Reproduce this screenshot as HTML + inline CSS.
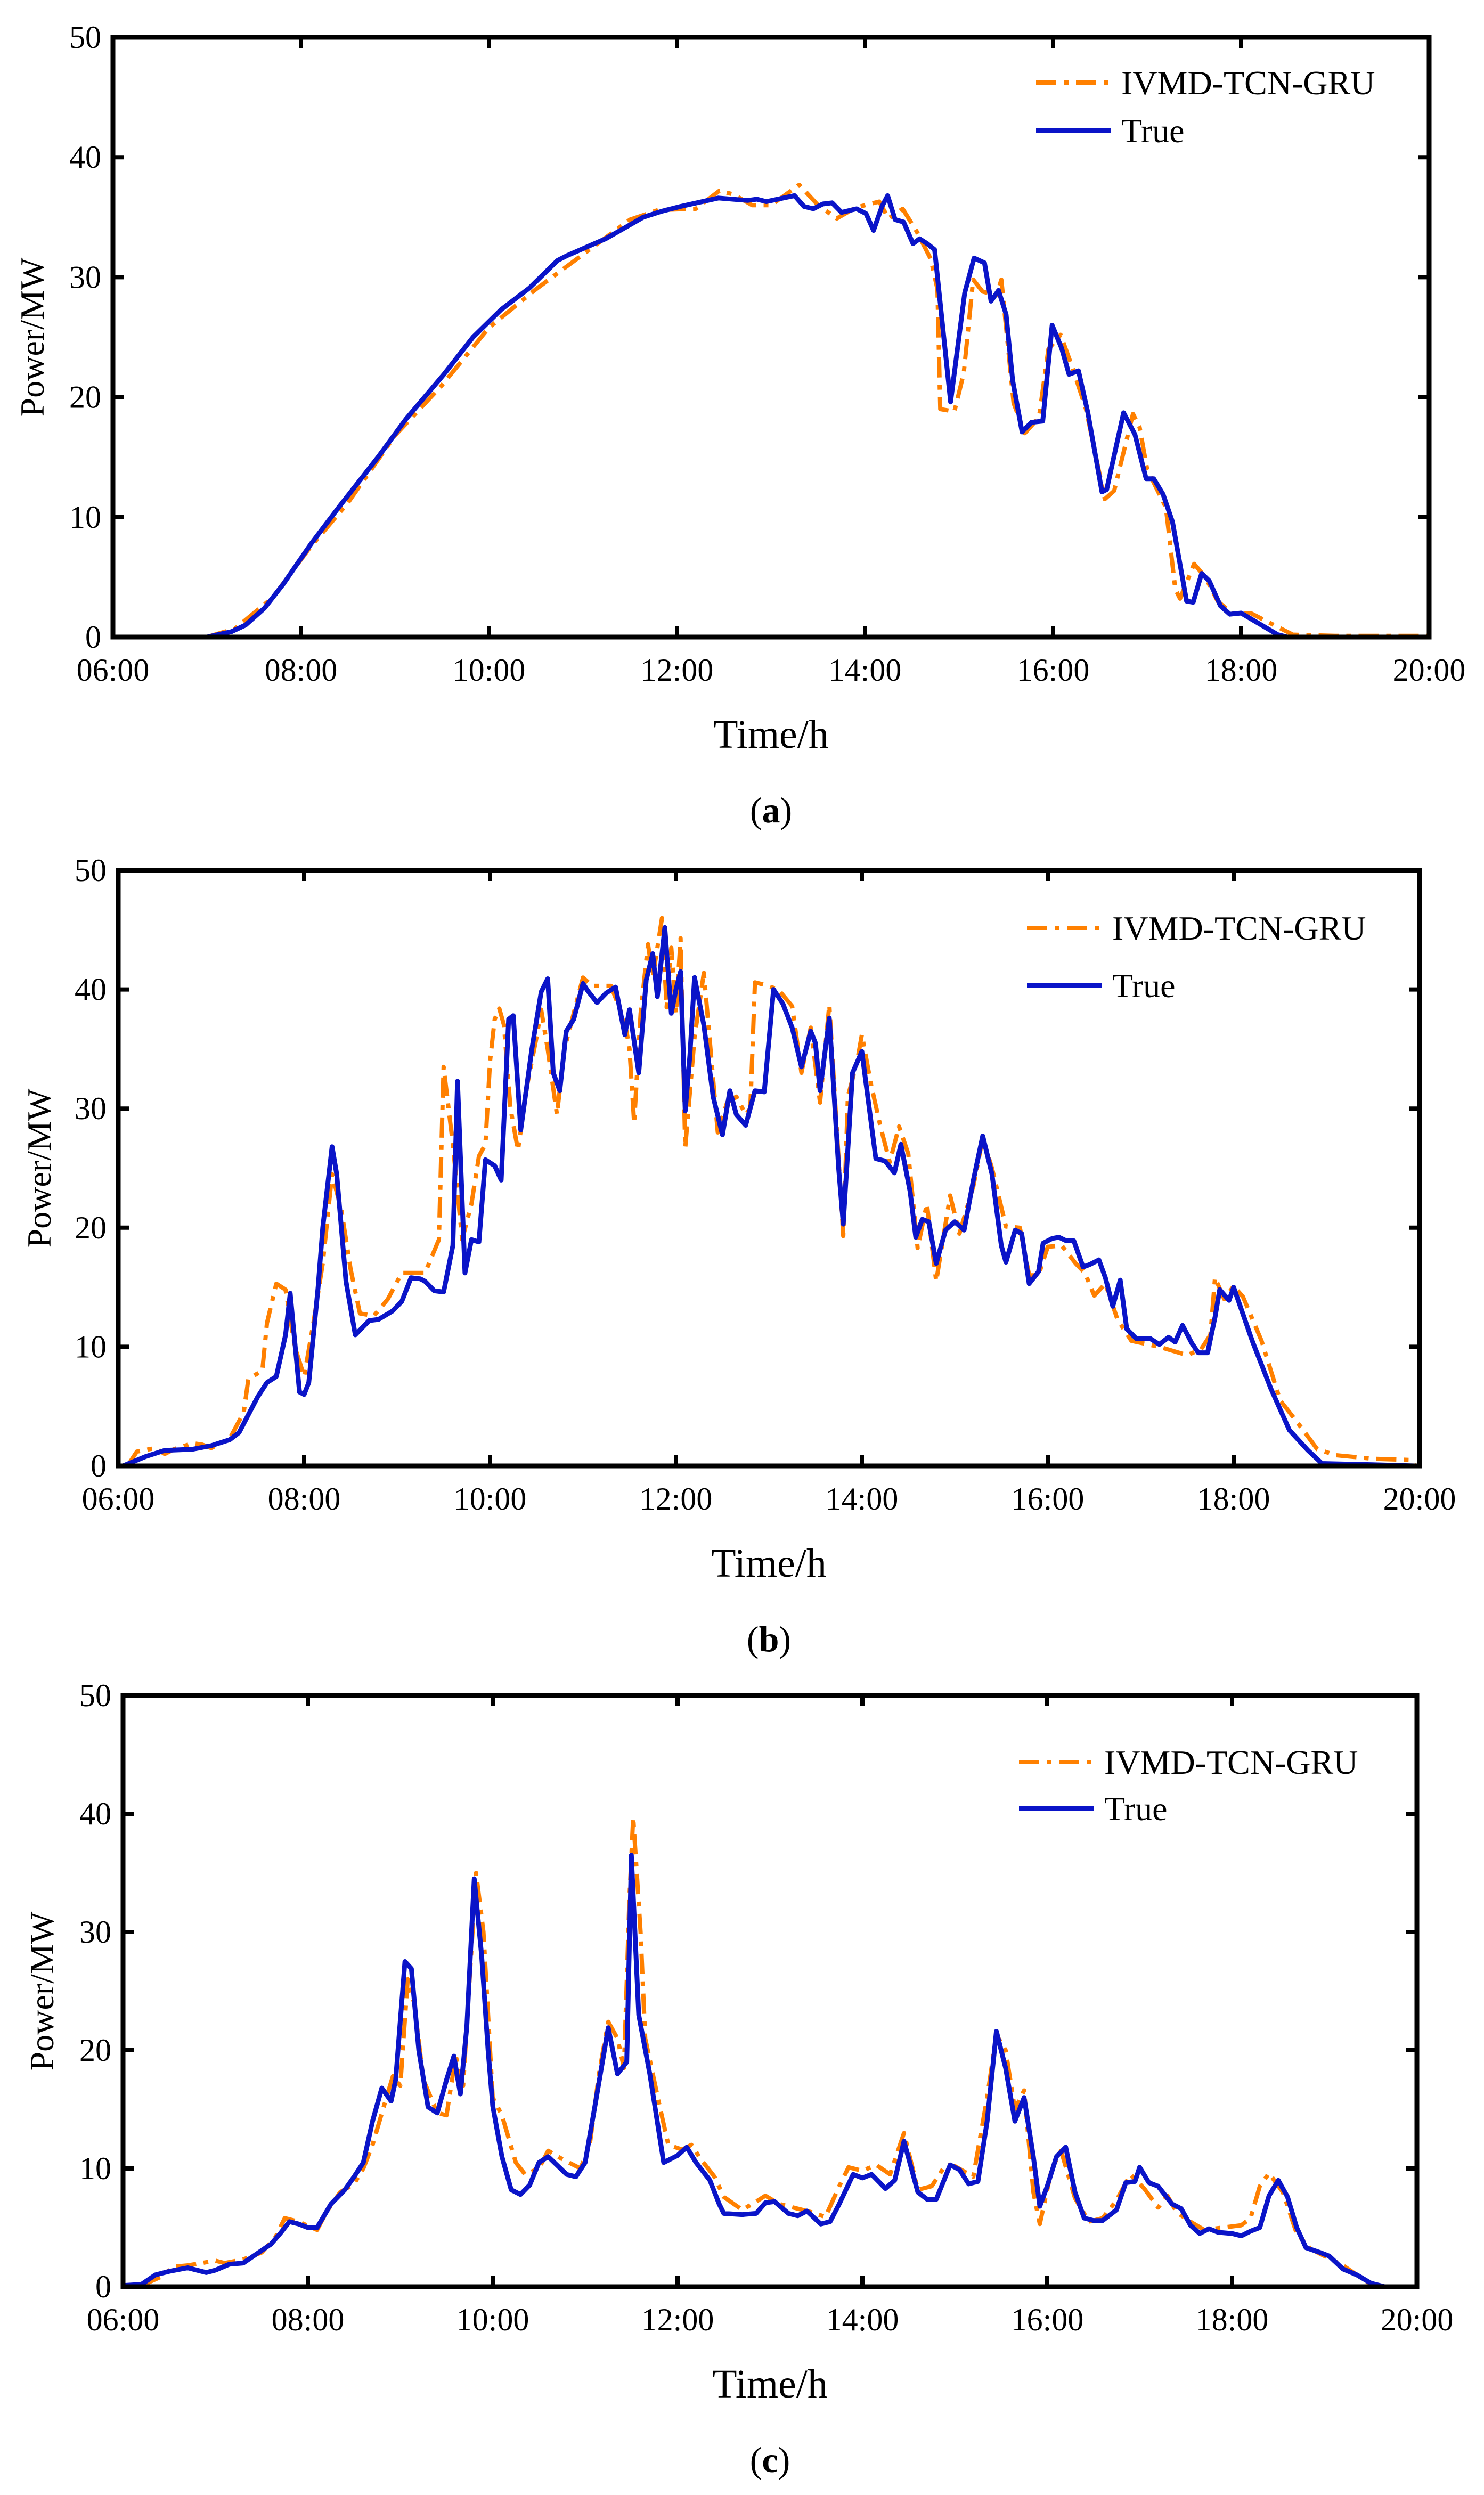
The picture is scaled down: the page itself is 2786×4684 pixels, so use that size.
<!DOCTYPE html>
<html><head><meta charset="utf-8"><style>
html,body{margin:0;padding:0;background:#fff;}
svg{display:block;font-family:"Liberation Serif",serif;}
</style></head><body>
<svg id="fig" width="2786" height="4684" viewBox="0 0 2786 4684" xmlns="http://www.w3.org/2000/svg"></svg>
<script>
const xTickLabels=["06:00","08:00","10:00","12:00","14:00","16:00","18:00","20:00"];
const xTickHours=[6,8,10,12,14,16,18,20];
const yTickValues=[0,10,20,30,40,50];
const captions=["(a)","(b)","(c)"];
const seriesNames=["IVMD-TCN-GRU","True"];

const aTrue=[[6,0],[7.0,0],[7.26,0.45],[7.41,1],[7.61,2.4],[7.81,4.4],[8.11,7.8],[8.42,11],[8.82,15],[9.12,18.2],[9.52,21.9],[9.83,25],[10.13,27.3],[10.43,29.1],[10.73,31.4],[10.83,31.8],[11.24,33.2],[11.44,34.1],[11.64,35],[11.84,35.5],[12.04,35.9],[12.44,36.6],[12.75,36.4],[12.85,36.5],[12.95,36.3],[13.25,36.8],[13.35,35.9],[13.45,35.7],[13.55,36.1],[13.65,36.2],[13.75,35.4],[13.91,35.7],[14.01,35.3],[14.09,33.9],[14.18,35.9],[14.24,36.8],[14.32,34.8],[14.41,34.6],[14.51,32.8],[14.58,33.2],[14.66,32.8],[14.74,32.3],[14.91,19.6],[15.06,28.7],[15.16,31.6],[15.27,31.2],[15.34,28],[15.42,28.9],[15.5,26.9],[15.57,21.4],[15.67,17.1],[15.77,17.9],[15.89,18],[15.99,26],[16.09,24.1],[16.17,21.9],[16.27,22.2],[16.37,18.7],[16.52,12.1],[16.57,12.3],[16.75,18.7],[16.87,16.9],[16.99,13.2],[17.07,13.2],[17.17,11.9],[17.27,9.6],[17.42,3],[17.49,2.9],[17.58,5.3],[17.66,4.7],[17.78,2.6],[17.88,1.9],[18.0,2],[18.39,0.2],[18.49,0]];
const aPred=[[7.0,0],[7.3,0.7],[7.7,3.3],[8.1,7.5],[8.5,11.2],[9.0,16.8],[9.5,21],[10.0,25.8],[10.5,29],[11.0,31.9],[11.5,34.8],[11.8,35.6],[12.2,35.7],[12.45,37.2],[12.6,36.9],[12.8,36],[13.0,36],[13.3,37.7],[13.5,36],[13.7,34.9],[13.9,35.8],[14.05,36.1],[14.15,36.3],[14.25,34.9],[14.4,35.7],[14.55,33.8],[14.7,31.5],[14.77,29],[14.8,19],[14.95,18.8],[15.05,22],[15.15,29.8],[15.25,28.8],[15.4,28.5],[15.45,29.8],[15.58,19.5],[15.7,17],[15.85,18.3],[15.95,24],[16.08,25.2],[16.2,22.6],[16.35,19],[16.55,11.5],[16.65,12.2],[16.85,18.6],[16.92,17.5],[17.0,14],[17.2,10.8],[17.3,4],[17.35,3.2],[17.5,6.1],[17.62,5],[17.75,3],[17.9,2],[18.1,2],[18.4,0.8],[18.55,0.2],[19,0.1],[20,0.1]];

const bTrue=[[6.05,0],[6.3,0.8],[6.5,1.3],[6.8,1.4],[7.0,1.7],[7.2,2.2],[7.3,2.8],[7.5,5.8],[7.6,7.0],[7.7,7.5],[7.8,11],[7.85,14.5],[7.95,6.2],[8.0,6],[8.05,7],[8.15,15],[8.2,20],[8.3,26.8],[8.35,24.5],[8.45,15.5],[8.55,11],[8.7,12.2],[8.8,12.3],[8.95,13],[9.05,13.8],[9.15,15.8],[9.25,15.7],[9.3,15.5],[9.4,14.7],[9.5,14.6],[9.6,18.5],[9.65,32.3],[9.73,16.2],[9.8,19],[9.88,18.8],[9.95,25.7],[10.05,25.2],[10.12,24],[10.2,37.5],[10.25,37.8],[10.33,28.2],[10.45,35],[10.55,39.8],[10.62,40.9],[10.68,33],[10.75,31.5],[10.82,36.5],[10.9,37.5],[11.0,40.5],[11.05,39.9],[11.15,38.9],[11.25,39.7],[11.35,40.2],[11.45,36.2],[11.5,38.3],[11.6,33],[11.68,40.8],[11.75,43],[11.8,39.4],[11.88,45.2],[11.95,38],[12.0,40],[12.05,41.5],[12.1,29.8],[12.15,34.5],[12.2,41],[12.3,37],[12.4,31],[12.5,27.8],[12.58,31.5],[12.65,29.5],[12.75,28.6],[12.85,31.5],[12.95,31.4],[13.05,40],[13.15,38.8],[13.25,36.8],[13.35,33.5],[13.45,36.5],[13.5,35.5],[13.55,31.5],[13.65,37.6],[13.75,25],[13.8,20.3],[13.9,33],[14.0,34.8],[14.15,25.8],[14.25,25.6],[14.35,24.6],[14.42,27],[14.52,23],[14.58,19.2],[14.65,20.7],[14.72,20.5],[14.8,17],[14.9,19.8],[15.0,20.5],[15.1,19.8],[15.2,24],[15.3,27.7],[15.4,24.5],[15.5,18.5],[15.55,17.1],[15.65,19.8],[15.72,19.5],[15.8,15.3],[15.9,16.3],[15.95,18.7],[16.05,19.1],[16.12,19.2],[16.2,18.9],[16.28,18.9],[16.38,16.7],[16.45,16.9],[16.55,17.3],[16.62,15.8],[16.7,13.4],[16.78,15.6],[16.85,11.5],[16.95,10.7],[17.1,10.7],[17.2,10.2],[17.3,10.8],[17.37,10.4],[17.45,11.8],[17.55,10.3],[17.62,9.5],[17.72,9.5],[17.8,12.5],[17.85,14.8],[17.95,13.9],[18.0,15],[18.2,10.5],[18.4,6.5],[18.6,3],[18.8,1.3],[18.95,0.2],[19.5,0.1],[19.95,0]];
const bPred=[[6.1,0],[6.2,1.2],[6.4,1.5],[6.5,1.0],[6.6,1.4],[6.8,1.9],[6.9,1.8],[7.0,1.5],[7.2,2.3],[7.35,4.5],[7.4,7.3],[7.55,8.0],[7.6,12],[7.7,15.3],[7.8,14.8],[7.9,10],[8.0,7.5],[8.1,12],[8.2,17],[8.3,24.5],[8.4,21.5],[8.5,16.5],[8.6,12.8],[8.75,12.6],[8.9,14],[9.05,16.2],[9.3,16.2],[9.45,19],[9.5,33.5],[9.6,27],[9.7,19],[9.8,22],[9.88,26],[9.95,27],[10.0,34],[10.05,37.5],[10.1,38.4],[10.15,37],[10.22,30],[10.3,26.5],[10.4,32],[10.5,36],[10.55,38.3],[10.62,35],[10.72,29.5],[10.8,35],[10.9,38],[11.0,41],[11.1,40.3],[11.3,40.3],[11.45,37.3],[11.5,35],[11.55,28.8],[11.62,38],[11.7,43.8],[11.75,41],[11.85,46],[11.9,38.5],[11.95,43.5],[12.0,38],[12.05,44.3],[12.1,26.7],[12.2,36],[12.3,41.4],[12.45,28],[12.55,30.5],[12.65,31],[12.75,29.5],[12.8,30],[12.85,40.6],[12.95,40.4],[13.1,40],[13.25,38.6],[13.35,33],[13.45,36.8],[13.55,30.5],[13.65,38.7],[13.8,19.3],[13.85,31],[13.95,34],[14.0,36.2],[14.1,32],[14.2,28.5],[14.3,25.5],[14.4,28.5],[14.5,26.2],[14.6,18.3],[14.7,22],[14.8,15.5],[14.95,22.7],[15.05,19.5],[15.2,23.5],[15.3,27.5],[15.4,25],[15.55,20.1],[15.7,20],[15.8,16],[15.9,16],[16.0,18.4],[16.15,18.5],[16.3,17],[16.4,16.2],[16.5,14.3],[16.62,15.3],[16.75,12.3],[16.9,10.5],[17.2,10],[17.5,9.3],[17.65,9.8],[17.75,11],[17.8,15.8],[17.9,14],[18.0,15.1],[18.1,14.2],[18.3,10.5],[18.5,5.5],[18.7,3.5],[18.9,1.4],[19.1,0.9],[19.5,0.6],[19.9,0.5],[19.95,0]];

const cTrue=[[6.0,0.1],[6.2,0.2],[6.35,1.0],[6.5,1.3],[6.7,1.6],[6.9,1.2],[7.0,1.4],[7.15,1.9],[7.3,2.0],[7.45,2.8],[7.6,3.6],[7.7,4.5],[7.8,5.5],[7.9,5.3],[8.0,5.0],[8.1,5.0],[8.25,7.0],[8.4,8.2],[8.5,9.3],[8.6,10.5],[8.7,14],[8.8,16.8],[8.9,15.7],[8.95,17.5],[9.05,27.5],[9.12,26.9],[9.2,20],[9.3,15.2],[9.4,14.7],[9.5,17.5],[9.58,19.5],[9.65,16.3],[9.72,22],[9.8,34.5],[9.88,28],[9.95,20],[10.0,15.3],[10.1,11],[10.2,8.2],[10.3,7.8],[10.4,8.6],[10.5,10.5],[10.6,11],[10.8,9.5],[10.9,9.3],[11.0,10.5],[11.1,15],[11.25,21.9],[11.35,18],[11.45,19],[11.5,36.5],[11.58,23],[11.7,18],[11.8,13],[11.85,10.5],[12.0,11.1],[12.1,11.8],[12.2,10.5],[12.35,9],[12.45,7],[12.5,6.2],[12.7,6.1],[12.85,6.2],[12.95,7.1],[13.05,7.2],[13.2,6.2],[13.3,6.0],[13.4,6.4],[13.55,5.3],[13.65,5.5],[13.75,7.0],[13.9,9.5],[14.0,9.2],[14.1,9.5],[14.25,8.3],[14.35,9.0],[14.45,12.3],[14.6,8.0],[14.7,7.4],[14.8,7.4],[14.95,10.3],[15.05,9.9],[15.15,8.7],[15.25,8.9],[15.35,14],[15.45,21.6],[15.55,18.5],[15.65,14],[15.75,16],[15.85,11],[15.92,6.8],[16.0,8.5],[16.1,11],[16.2,11.8],[16.3,8.0],[16.4,5.8],[16.5,5.6],[16.6,5.6],[16.75,6.5],[16.85,8.8],[16.95,8.9],[17.0,10.1],[17.1,8.8],[17.2,8.5],[17.35,7.0],[17.45,6.6],[17.55,5.2],[17.65,4.5],[17.75,4.9],[17.85,4.6],[18.0,4.5],[18.1,4.3],[18.2,4.7],[18.3,5.0],[18.4,7.7],[18.5,9.0],[18.6,7.6],[18.7,5.0],[18.8,3.3],[18.95,2.9],[19.05,2.6],[19.2,1.5],[19.35,1.0],[19.5,0.3],[19.65,0]];
const cPred=[[6.2,0.1],[6.4,0.8],[6.55,1.7],[6.7,1.8],[6.85,2.0],[7.0,2.2],[7.1,2.0],[7.3,2.3],[7.5,2.9],[7.65,4.2],[7.75,5.8],[7.9,5.5],[8.1,4.8],[8.2,6.3],[8.35,8.0],[8.5,8.7],[8.6,10],[8.7,12],[8.85,16],[8.92,17.8],[9.0,17],[9.08,26],[9.15,24],[9.25,17.5],[9.4,14.7],[9.5,14.5],[9.6,19.5],[9.68,17],[9.75,26],[9.82,35],[9.9,30],[10.0,16],[10.1,14.5],[10.25,10.5],[10.35,9.5],[10.5,10],[10.6,11.5],[10.75,10.8],[10.95,10],[11.05,12],[11.15,18],[11.25,22.4],[11.35,21],[11.42,18.5],[11.48,33],[11.52,39.7],[11.6,30],[11.65,21],[11.8,15.5],[11.9,12],[12.05,11.6],[12.15,12],[12.25,10.8],[12.4,9.3],[12.5,7.6],[12.7,6.5],[12.85,7.2],[12.95,7.7],[13.1,7.0],[13.25,6.7],[13.45,6.3],[13.6,5.9],[13.75,8.5],[13.85,10.1],[14.0,9.8],[14.15,10.3],[14.3,9.5],[14.45,13],[14.6,8.2],[14.75,8.5],[14.9,10.3],[15.0,10.2],[15.2,9.3],[15.35,16],[15.45,21.3],[15.55,20],[15.65,15],[15.75,16.6],[15.85,8],[15.92,5.3],[16.05,10],[16.15,11.5],[16.3,7.5],[16.45,5.5],[16.6,5.8],[16.75,7.3],[16.9,9.5],[17.05,8.3],[17.2,6.7],[17.3,7.7],[17.4,6.3],[17.55,5.5],[17.7,4.8],[17.9,5.0],[18.1,5.2],[18.2,5.8],[18.3,8.5],[18.4,9.6],[18.55,8.0],[18.7,4.5],[18.85,3.2],[19.05,2.4],[19.2,1.8],[19.35,1.0],[19.5,0.2],[19.6,0]];

const NS="http://www.w3.org/2000/svg";
const svg=document.getElementById('fig');
function mk(tag,attrs,parent){const e=document.createElementNS(NS,tag);for(const k in attrs)e.setAttribute(k,attrs[k]);(parent||svg).appendChild(e);return e;}

const panels=[
 {id:'a',L:212,R:2683,T:70,B:1196,ylx:62,legX:1945,legY1:155,legY2:245,pred:aPred,tru:aTrue},
 {id:'b',L:222,R:2665,T:1634,B:2752,ylx:75,legX:1928,legY1:1742,legY2:1850,pred:bPred,tru:bTrue},
 {id:'c',L:231,R:2660,T:3183,B:4293,ylx:80,legX:1913,legY1:3308,legY2:3395,pred:cPred,tru:cTrue}
];

panels.forEach((p,pi)=>{
  const g=mk('g',{});
  
  
  const xs=h=>p.L+(h-6)/14*(p.R-p.L);
  const ys=v=>p.B-v/50*(p.B-p.T);
  const pathOf=arr=>arr.map((d,i)=>(i?'L':'M')+xs(d[0]).toFixed(1)+' '+ys(d[1]).toFixed(1)).join(' ');
  const pr=mk('path',{d:pathOf(p.pred),fill:'none',stroke:'#ff8000','stroke-width':8,'stroke-dasharray':'38 14 9 14','stroke-linejoin':'round'},g);
  
  
  const tr=mk('path',{d:pathOf(p.tru),fill:'none',stroke:'#0a14c8','stroke-width':9,'stroke-linejoin':'round'},g);
  
  
  const fr=mk('rect',{x:p.L,y:p.T,width:p.R-p.L,height:p.B-p.T,fill:'none',stroke:'#000','stroke-width':9},g);
  
  
  xTickHours.forEach((h,i)=>{
    const x=xs(h);
    mk('line',{x1:x,y1:p.B,x2:x,y2:p.B-20,stroke:'#000','stroke-width':8},g);
    mk('line',{x1:x,y1:p.T,x2:x,y2:p.T+20,stroke:'#000','stroke-width':8},g);
    const t=mk('text',{x:x,y:p.B+82,'font-size':60,'text-anchor':'middle',fill:'#000'},g);
    t.textContent=xTickLabels[i];
    
    
  });
  yTickValues.forEach(v=>{
    const y=ys(v);
    mk('line',{x1:p.L,y1:y,x2:p.L+20,y2:y,stroke:'#000','stroke-width':8},g);
    mk('line',{x1:p.R,y1:y,x2:p.R-20,y2:y,stroke:'#000','stroke-width':8},g);
    const t=mk('text',{x:p.L-22,y:y+20,'font-size':60,'text-anchor':'end',fill:'#000'},g);
    t.textContent=String(v);
    
    
  });
  const xt=mk('text',{x:(p.L+p.R)/2,y:p.B+208,'font-size':76,'text-anchor':'middle',fill:'#000'},g);
  xt.textContent='Time/h';
  
  
  const yt=mk('text',{x:0,y:0,'font-size':64,'text-anchor':'middle',fill:'#000',transform:`translate(${p.ylx+20},${(p.T+p.B)/2}) rotate(-90)`},g);
  yt.textContent='Power/MW';
  
  
  const cap=mk('text',{x:(p.L+p.R)/2,y:p.B+348,'font-size':68,'text-anchor':'middle',fill:'#000'},g);
  cap.innerHTML='(<tspan font-weight="bold">'+p.id+'</tspan>)';
  
  
  const lg=mk('g',{},g);
  
  
  mk('line',{x1:p.legX,y1:p.legY1,x2:p.legX+140,y2:p.legY1,stroke:'#ff8000','stroke-width':8,'stroke-dasharray':'38 14 9 14'},lg);
  const l1=mk('text',{x:p.legX+160,y:p.legY1+22,'font-size':64,fill:'#000'},lg);
  l1.textContent=seriesNames[0];
  
  
  mk('line',{x1:p.legX,y1:p.legY2,x2:p.legX+140,y2:p.legY2,stroke:'#0a14c8','stroke-width':9},lg);
  const l2=mk('text',{x:p.legX+160,y:p.legY2+22,'font-size':64,fill:'#000'},lg);
  l2.textContent=seriesNames[1];
  
  
});
</script>
</body></html>
